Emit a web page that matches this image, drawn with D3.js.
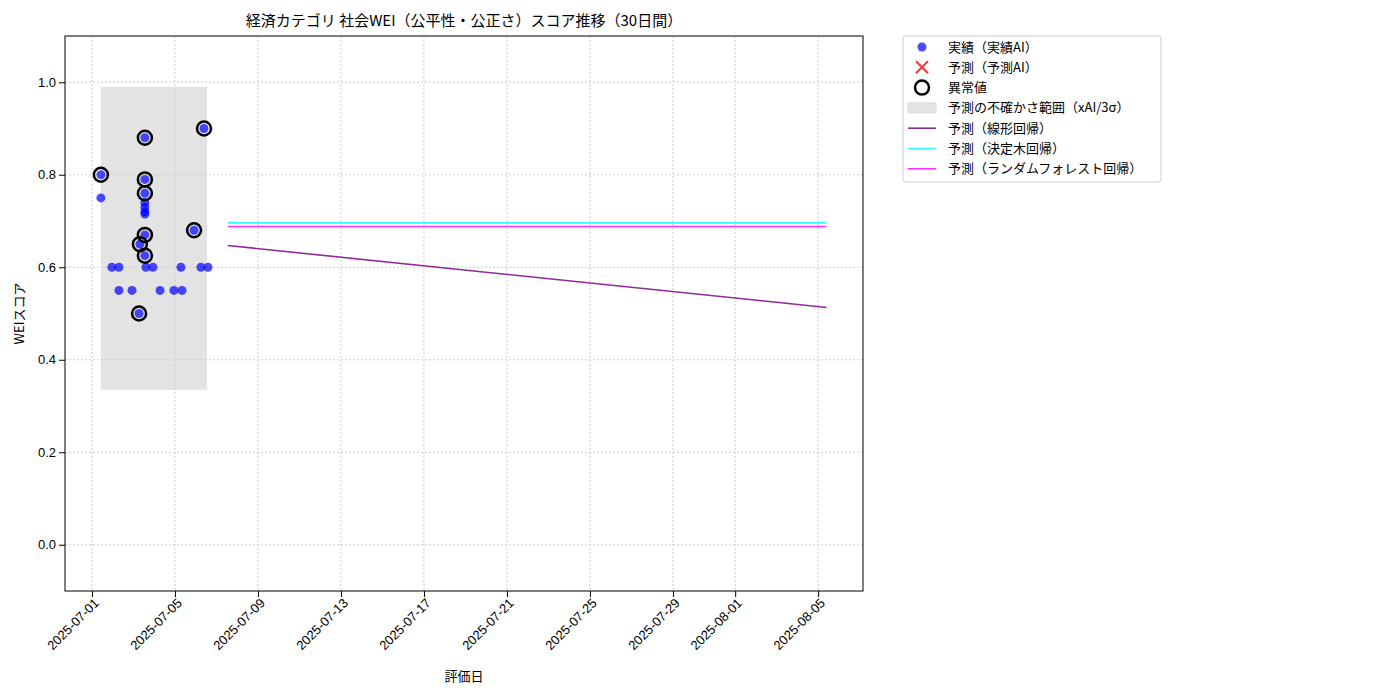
<!DOCTYPE html>
<html><head><meta charset="utf-8">
<script src="https://cdn.jsdelivr.net/npm/d3@7"></script>
<style>body{margin:0;background:#fff;font-family:"Noto Sans CJK JP","DejaVu Sans",sans-serif}</style>
</head><body><svg id="c" width="1400" height="700"></svg>
<script>
// days since 2025-07-01 00:00
const actualDays = [0.43,0.43,2.55,2.55,2.55,2.55,2.55,2.55,2.55,2.55,2.31,2.55,5.40,4.92,2.27,
  0.96,1.30,2.60,2.94,4.29,5.25,5.59,1.30,1.93,3.28,3.95,4.34]
const actualVals = [0.80,0.75,0.88,0.79,0.76,0.74,0.73,0.72,0.715,0.67,0.65,0.625,0.90,0.68,0.50,
  0.60,0.60,0.60,0.60,0.60,0.60,0.60,0.55,0.55,0.55,0.55,0.55]
const anomalyIdx = [0,2,3,4,9,10,11,12,13,14]
const bandDays = [0.43,5.55], bandVals = [0.335,0.99]
const predDays = [6.55,35.4]
const linearVals = [0.647,0.513], treeVals = [0.696,0.696], forestVals = [0.688,0.688]
const tickDates = ["2025-07-01","2025-07-05","2025-07-09","2025-07-13","2025-07-17","2025-07-21","2025-07-25","2025-07-29","2025-08-01","2025-08-05"]
const yTicks = [0,0.2,0.4,0.6,0.8,1.0]

const base = new Date(2025,6,1)
const d = v => new Date(base.getTime()+v*864e5)
const svg = d3.select("#c")
const L=65,R=863,T=36,B=591
const x = d3.scaleTime().domain([d(-1.3),d(37.16)]).range([L,R])
const y = d3.scaleLinear().domain([-0.1,1.1]).range([B,T])
const fmt = d3.timeFormat("%Y-%m-%d")

svg.append("g").selectAll("line").data(tickDates).join("line")
  .attr("x1",t=>x(new Date(t+"T00:00"))).attr("x2",t=>x(new Date(t+"T00:00"))).attr("y1",T).attr("y2",B)
  .attr("stroke","#ccc").attr("stroke-dasharray","2,2")
svg.append("g").selectAll("line").data(yTicks).join("line")
  .attr("x1",L).attr("x2",R).attr("y1",v=>y(v)).attr("y2",v=>y(v))
  .attr("stroke","#ccc").attr("stroke-dasharray","2,2")

svg.append("rect").attr("x",x(d(bandDays[0]))).attr("width",x(d(bandDays[1]))-x(d(bandDays[0])))
  .attr("y",y(bandVals[1])).attr("height",y(bandVals[0])-y(bandVals[1])).attr("fill","#c8c8c8").attr("opacity",0.5)

const line = d3.line().x(p=>x(d(p[0]))).y(p=>y(p[1]))
;[[linearVals,"#8e2a9a"],[treeVals,"#33ffff"],[forestVals,"#ff33ff"]].forEach(([v,c])=>{
  svg.append("path").attr("d",line(predDays.map((t,i)=>[t,v[i]]))).attr("fill","none").attr("stroke",c).attr("stroke-width",1.6)
})

svg.append("g").selectAll("circle").data(actualDays).join("circle")
  .attr("cx",t=>x(d(t))).attr("cy",(t,i)=>y(actualVals[i])).attr("r",4.5).attr("fill","#0000ff").attr("opacity",0.7)
svg.append("g").selectAll("circle").data(anomalyIdx).join("circle")
  .attr("cx",i=>x(d(actualDays[i]))).attr("cy",i=>y(actualVals[i])).attr("r",7)
  .attr("fill","none").attr("stroke","#000").attr("stroke-width",2.5)

svg.append("rect").attr("x",L).attr("y",T).attr("width",R-L).attr("height",B-T).attr("fill","none").attr("stroke","#000")

const xa = svg.append("g").attr("transform",`translate(0,${B})`)
  .call(d3.axisBottom(x).tickValues(tickDates.map(t=>new Date(t+"T00:00"))).tickFormat(fmt).tickSizeOuter(0))
xa.select(".domain").remove()
xa.selectAll("text").attr("font-size",13).attr("text-anchor","end").attr("dx","-0.3em").attr("dy","0.4em")
  .attr("transform","rotate(-45)").attr("fill","#000")
const ya = svg.append("g").attr("transform",`translate(${L},0)`)
  .call(d3.axisLeft(y).tickValues(yTicks).tickFormat(d3.format(".1f")).tickSizeOuter(0))
ya.select(".domain").remove()
ya.selectAll("text").attr("font-size",13).attr("fill","#000")

svg.append("text").attr("x",(L+R)/2).attr("y",26).attr("text-anchor","middle").attr("font-size",15)
  .text("経済カテゴリ 社会WEI（公平性・公正さ）スコア推移（30日間）")
svg.append("text").attr("x",(L+R)/2).attr("y",681).attr("text-anchor","middle").attr("font-size",13).text("評価日")
svg.append("text").attr("transform",`translate(24,${(T+B)/2}) rotate(-90)`).attr("text-anchor","middle").attr("font-size",13).text("WEIスコア")

const lg = svg.append("g").attr("transform","translate(903,36)")
lg.append("rect").attr("width",258).attr("height",146).attr("fill","#fff").attr("stroke","#ccc").attr("rx",3)
const items = ["実績（実績AI）","予測（予測AI）","異常値","予測の不確かさ範囲（xAI/3σ）","予測（線形回帰）","予測（決定木回帰）","予測（ランダムフォレスト回帰）"]
items.forEach((s,i)=>{
  const cy = 11+i*20.3, g = lg.append("g").attr("transform",`translate(0,${cy})`)
  if(i==0) g.append("circle").attr("cx",19).attr("r",4.5).attr("fill","#0000ff").attr("opacity",0.7)
  if(i==1){g.append("path").attr("d","M13,-6L25,6M13,6L25,-6").attr("stroke","#ff3030").attr("stroke-width",2)}
  if(i==2) g.append("circle").attr("cx",19).attr("r",7).attr("fill","none").attr("stroke","#000").attr("stroke-width",2.5)
  if(i==3) g.append("rect").attr("x",5).attr("y",-5).attr("width",28).attr("height",10).attr("fill","#c8c8c8").attr("opacity",0.5).attr("stroke","#bbb")
  if(i>3) g.append("line").attr("x1",5).attr("x2",33).attr("stroke",["#8e2a9a","#33ffff","#ff33ff"][i-4]).attr("stroke-width",1.6)
  g.append("text").attr("x",45).attr("dy","0.35em").attr("font-size",13).text(s)
})
</script></body></html>
